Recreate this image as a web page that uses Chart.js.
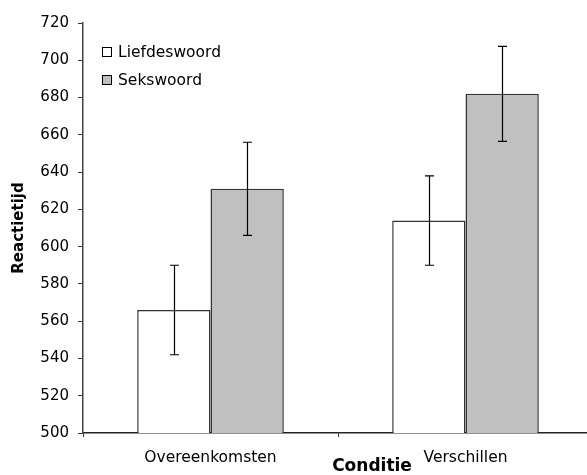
<!DOCTYPE html>
<html>
<head>
<meta charset="utf-8">
<script src="https://cdn.jsdelivr.net/npm/chart.js@4/dist/chart.umd.min.js"></script>
<style>
  html, body { margin: 0; padding: 0; background: #fff; overflow: hidden; }
  #wrap { width: 587px; height: 475px; overflow: hidden; }
</style>
</head>
<body>
<div id="wrap"><canvas id="c" width="594" height="475"></canvas></div>
<script>
const categories = ['Overeenkomsten', 'Verschillen'];
const seriesNames = ['Liefdeswoord', 'Sekswoord'];
const liefdeswoord = [566, 614];
const sekswoord = [631, 682];
const liefdeswoordErr = [24, 24];
const sekswoordErr = [25, 25.5];
const yMin = 500, yMax = 720, yStep = 20;
const xTitle = 'Conditie';
const yTitle = 'Reactietijd';

const FONT = "'DejaVu Sans', sans-serif";

const errorBars = {
  id: 'errorBars',
  afterDatasetsDraw(chart) {
    const ctx = chart.ctx;
    const y = chart.scales.y;
    ctx.save();
    ctx.strokeStyle = '#000';
    ctx.lineWidth = 1.2;
    chart.data.datasets.forEach((ds, i) => {
      const meta = chart.getDatasetMeta(i);
      meta.data.forEach((bar, j) => {
        const v = ds.data[j], e = ds.errors[j];
        const top = y.getPixelForValue(v + e);
        const bot = y.getPixelForValue(v - e);
        const x = Math.round(bar.x) + 0.5;
        ctx.beginPath();
        ctx.moveTo(x, top); ctx.lineTo(x, bot);
        ctx.moveTo(x - 4.5, top); ctx.lineTo(x + 4.5, top);
        ctx.moveTo(x - 4.5, bot); ctx.lineTo(x + 4.5, bot);
        ctx.stroke();
      });
    });
    ctx.restore();
  }
};

const customLegend = {
  id: 'customLegend',
  afterDraw(chart) {
    const ctx = chart.ctx;
    const a = chart.chartArea;
    ctx.save();
    ctx.font = '15.5px ' + FONT;
    ctx.textBaseline = 'middle';
    ctx.textAlign = 'left';
    chart.data.datasets.forEach((ds, i) => {
      const bx = a.left + 19.5, by = a.top + 24.5 + i * 28;
      ctx.fillStyle = ds.backgroundColor;
      ctx.fillRect(bx, by, 9, 9);
      ctx.strokeStyle = '#000';
      ctx.lineWidth = 1;
      ctx.strokeRect(bx, by, 9, 9);
      ctx.fillStyle = '#000';
      ctx.fillText(ds.label, a.left + 35, by + 5);
    });
    // x-axis title, placed as in the original
    ctx.font = 'bold 17px ' + FONT;
    ctx.textAlign = 'center';
    ctx.fillText(xTitle, a.left + 289, a.bottom + 34);
    ctx.restore();
  }
};

new Chart(document.getElementById('c'), {
  type: 'bar',
  data: {
    labels: categories,
    datasets: [
      { label: seriesNames[0], data: liefdeswoord, errors: liefdeswoordErr,
        backgroundColor: '#ffffff', borderColor: '#333', borderWidth: 1.5,
        categoryPercentage: 0.575, barPercentage: 1.0 },
      { label: seriesNames[1], data: sekswoord, errors: sekswoordErr,
        backgroundColor: '#c0c0c0', borderColor: '#333', borderWidth: 1.5,
        categoryPercentage: 0.575, barPercentage: 1.0 }
    ]
  },
  options: {
    responsive: false,
    animation: false,
    events: [],
    layout: { padding: { left: 0, top: 23, right: 1, bottom: 0 } },
    plugins: { legend: { display: false }, tooltip: { enabled: false } },
    scales: {
      x: {
        afterFit(s) { s.height = 42; },
        grid: { drawOnChartArea: false, tickLength: 4, color: '#333', offset: true },
        border: { display: true, color: '#222', width: 1.5 },
        ticks: { color: '#000', font: { family: FONT, size: 15.5 }, padding: 12 }
      },
      y: {
        min: yMin, max: yMax,
        afterFit(s) { s.width = 83; },
        grid: { drawOnChartArea: false, tickLength: 5, color: '#333' },
        border: { display: true, color: '#444', width: 1.5 },
        ticks: { stepSize: yStep, color: '#000', font: { family: FONT, size: 15 }, padding: 9 },
        title: { display: true, text: yTitle, color: '#000',
                 font: { family: FONT, size: 15, weight: 'bold' }, padding: { top: 10, bottom: 0 } }
      }
    }
  },
  plugins: [errorBars, customLegend]
});
</script>
</body>
</html>
